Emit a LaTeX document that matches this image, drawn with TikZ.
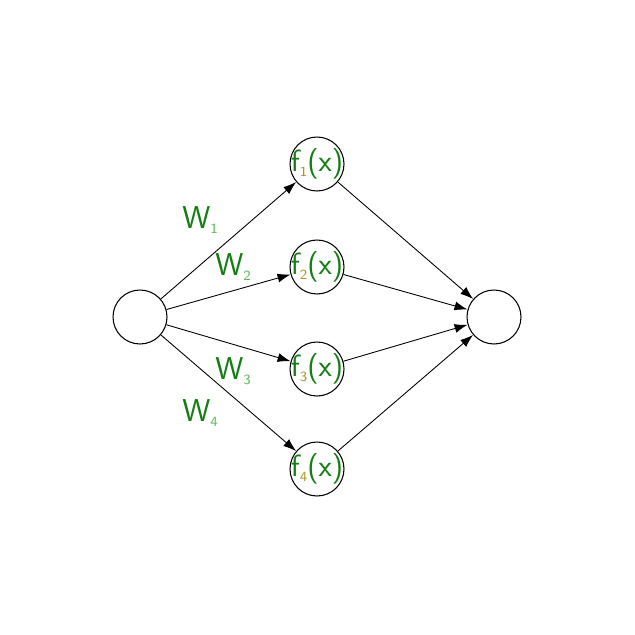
\documentclass[tikz,border=0pt]{standalone}
\usepackage{tikz}
\usetikzlibrary{arrows.meta}

\definecolor{wgreen}{RGB}{20,125,20}
\definecolor{wsub}{RGB}{95,185,95}
\definecolor{fsub}{RGB}{170,150,40}

\newcommand{\lowsub}[2]{\raisebox{-0.35ex}{\fontsize{8}{8}\selectfont\color{#1}#2}}

\begin{document}
\begin{tikzpicture}[
    x=0.02cm, y=-0.02cm,
    every node/.style={font=\sffamily},
    unit/.style={circle, draw=black, line width=0.6pt, minimum size=1.08cm, inner sep=0pt},
    wlabel/.style={text=wgreen, font=\sffamily\fontsize{18}{18}\selectfont},
    flabel/.style={text=wgreen, font=\sffamily\fontsize{17.5}{17.5}\selectfont, inner sep=0pt},
    link/.style={->, line width=0.5pt},
    >={Latex[length=2.6mm,width=1.8mm]}
]
\useasboundingbox (0,0) rectangle (635,635);

% Parameters
\def\colIn{140}
\def\colMid{317}
\def\colOut{494}

% === Units ===
\node[unit] (in) at (\colIn,317) {};
\node[unit] (out) at (\colOut,317) {};
\foreach \i/\y in {1/164, 2/267, 3/369, 4/469} {
    \node[unit, label={[flabel]center:f\lowsub{fsub}{\i}(x)}] (f\i) at (\colMid,\y) {};
}

% === Links ===
\foreach \i in {1,...,4} {
    \draw[link] (in) -- (f\i);
    \draw[link] (f\i) -- (out);
}

% === Weight labels ===
\node[wlabel] (w1) at (200,220) {W\lowsub{wsub}{1}};
\node[wlabel] (w2) at (233,267) {W\lowsub{wsub}{2}};
\node[wlabel] (w3) at (233,371) {W\lowsub{wsub}{3}};
\node[wlabel] (w4) at (200,413) {W\lowsub{wsub}{4}};

\end{tikzpicture}
\end{document}
